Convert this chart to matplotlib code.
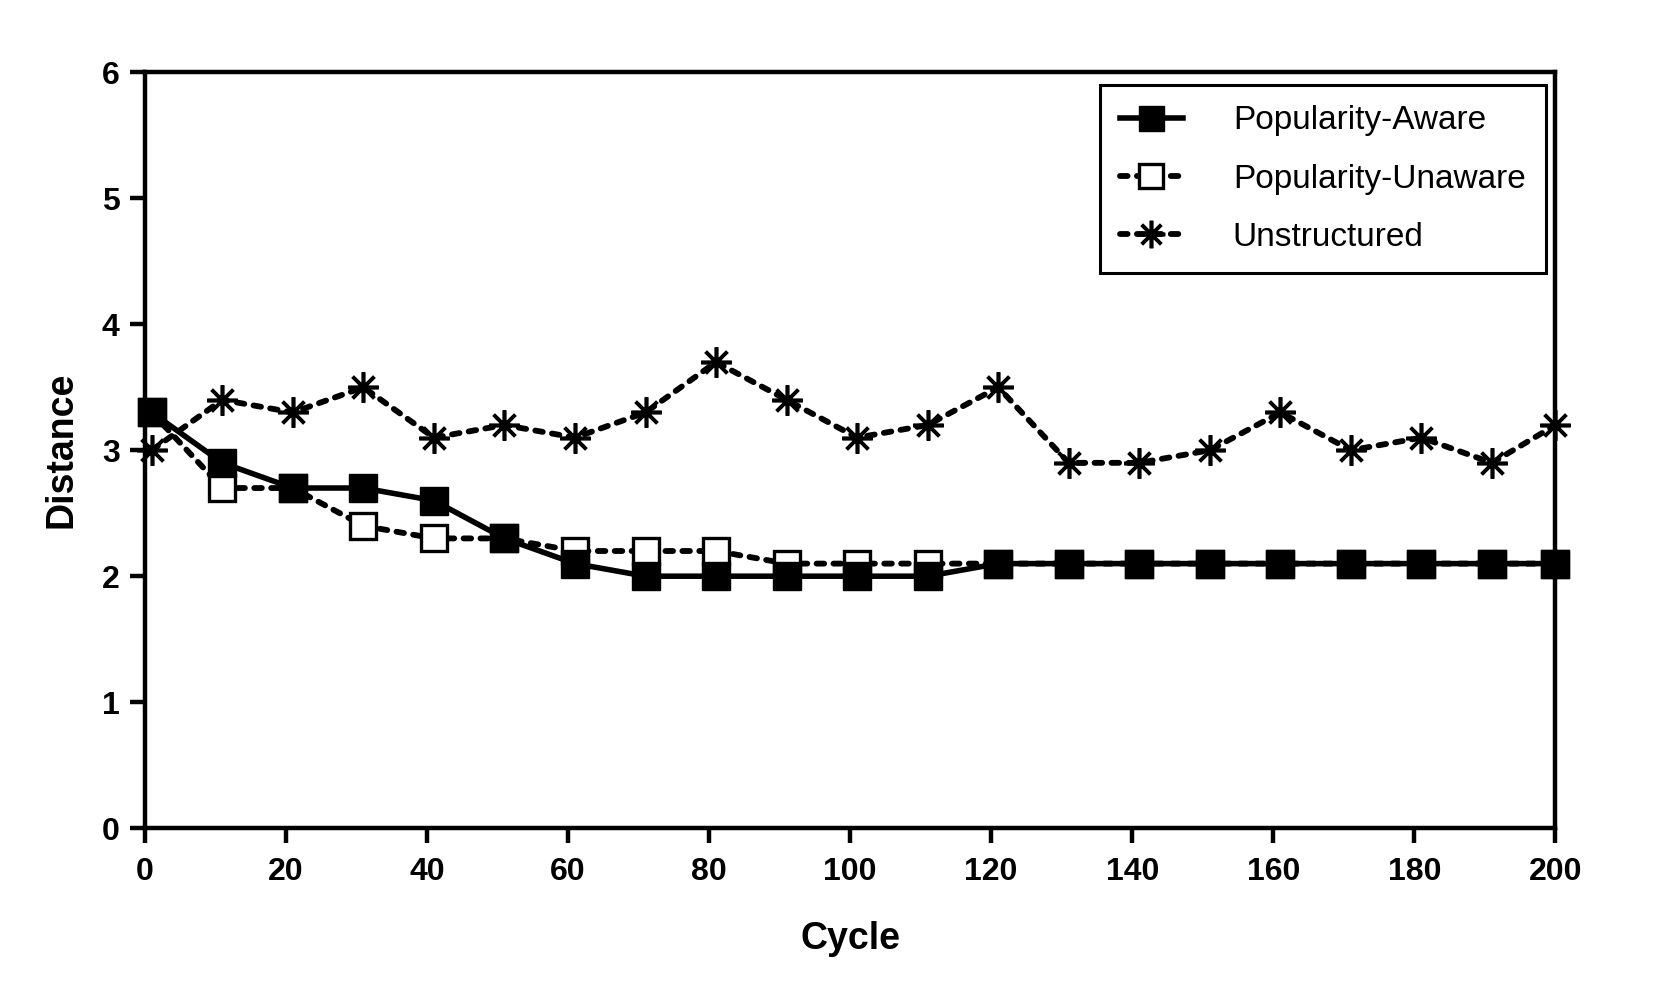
import matplotlib
matplotlib.use("Agg")
import matplotlib.pyplot as plt

# data
cycle = [1, 11, 21, 31, 41, 51, 61, 71, 81, 91, 101, 111, 121, 131, 141, 151, 161, 171, 181, 191, 200]
aware = [3.3, 2.9, 2.7, 2.7, 2.6, 2.3, 2.1, 2.0, 2.0, 2.0, 2.0, 2.0, 2.1, 2.1, 2.1, 2.1, 2.1, 2.1, 2.1, 2.1, 2.1]
unaware = [3.3, 2.7, 2.7, 2.4, 2.3, 2.3, 2.2, 2.2, 2.2, 2.1, 2.1, 2.1, 2.1, 2.1, 2.1, 2.1, 2.1, 2.1, 2.1, 2.1, 2.1]
unstructured = [3.0, 3.4, 3.3, 3.5, 3.1, 3.2, 3.1, 3.3, 3.7, 3.4, 3.1, 3.2, 3.5, 2.9, 2.9, 3.0, 3.3, 3.0, 3.1, 2.9, 3.2]
labels = ["Popularity-Aware", "Popularity-Unaware", "Unstructured"]

plt.rcParams['font.family'] = ['Liberation Sans', 'DejaVu Sans']

fig = plt.figure(figsize=(16.67, 10.05), dpi=100)
ax = fig.add_axes([0.0868, 0.176, 0.8463, 0.752])

dash = (0, (1.3, 1.6))
ax.plot(cycle, unstructured, color='black', linewidth=4.2, linestyle=dash,
        dash_capstyle='round', marker=(8, 2, 0), markersize=22,
        markeredgewidth=2.6, label=labels[2], zorder=3, clip_on=False)
ax.plot(cycle, unaware, color='black', linewidth=4.2, linestyle=dash,
        dash_capstyle='round', marker='s', markersize=19, markerfacecolor='white',
        markeredgecolor='black', markeredgewidth=2.4, label=labels[1], zorder=4, clip_on=False)
ax.plot(cycle, aware, color='black', linewidth=4.0, linestyle='-',
        marker='s', markersize=20, markerfacecolor='black', markeredgecolor='black',
        label=labels[0], zorder=5, clip_on=False)

ax.set_xlim(0, 200)
ax.set_ylim(0, 6)
ax.set_xticks(range(0, 201, 20))
ax.set_yticks(range(0, 7))
for s in ax.spines.values():
    s.set_linewidth(3.2)
ax.tick_params(direction='out', length=11, width=3.2, labelsize=23, pad=7)
ax.tick_params(axis='x', pad=10)
for t in ax.get_xticklabels() + ax.get_yticklabels():
    t.set_fontweight('bold')

ax.set_xlabel("Cycle", fontsize=27, fontweight='bold', labelpad=24)
ax.set_ylabel("Distance", fontsize=27, fontweight='bold', labelpad=16)

handles, labs = ax.get_legend_handles_labels()
order = [2, 1, 0]
leg = ax.legend([handles[i] for i in order], [labs[i] for i in order],
                loc='upper right', bbox_to_anchor=(0.993, 0.983), borderaxespad=0,
                fontsize=24, frameon=True, fancybox=False, edgecolor='black',
                framealpha=1, handlelength=1.9, handletextpad=1.5, labelspacing=0.82,
                borderpad=0.6, markerscale=0.9)
leg.get_frame().set_linewidth(2.2)

fig.savefig("out.png", dpi=100, facecolor='white')
